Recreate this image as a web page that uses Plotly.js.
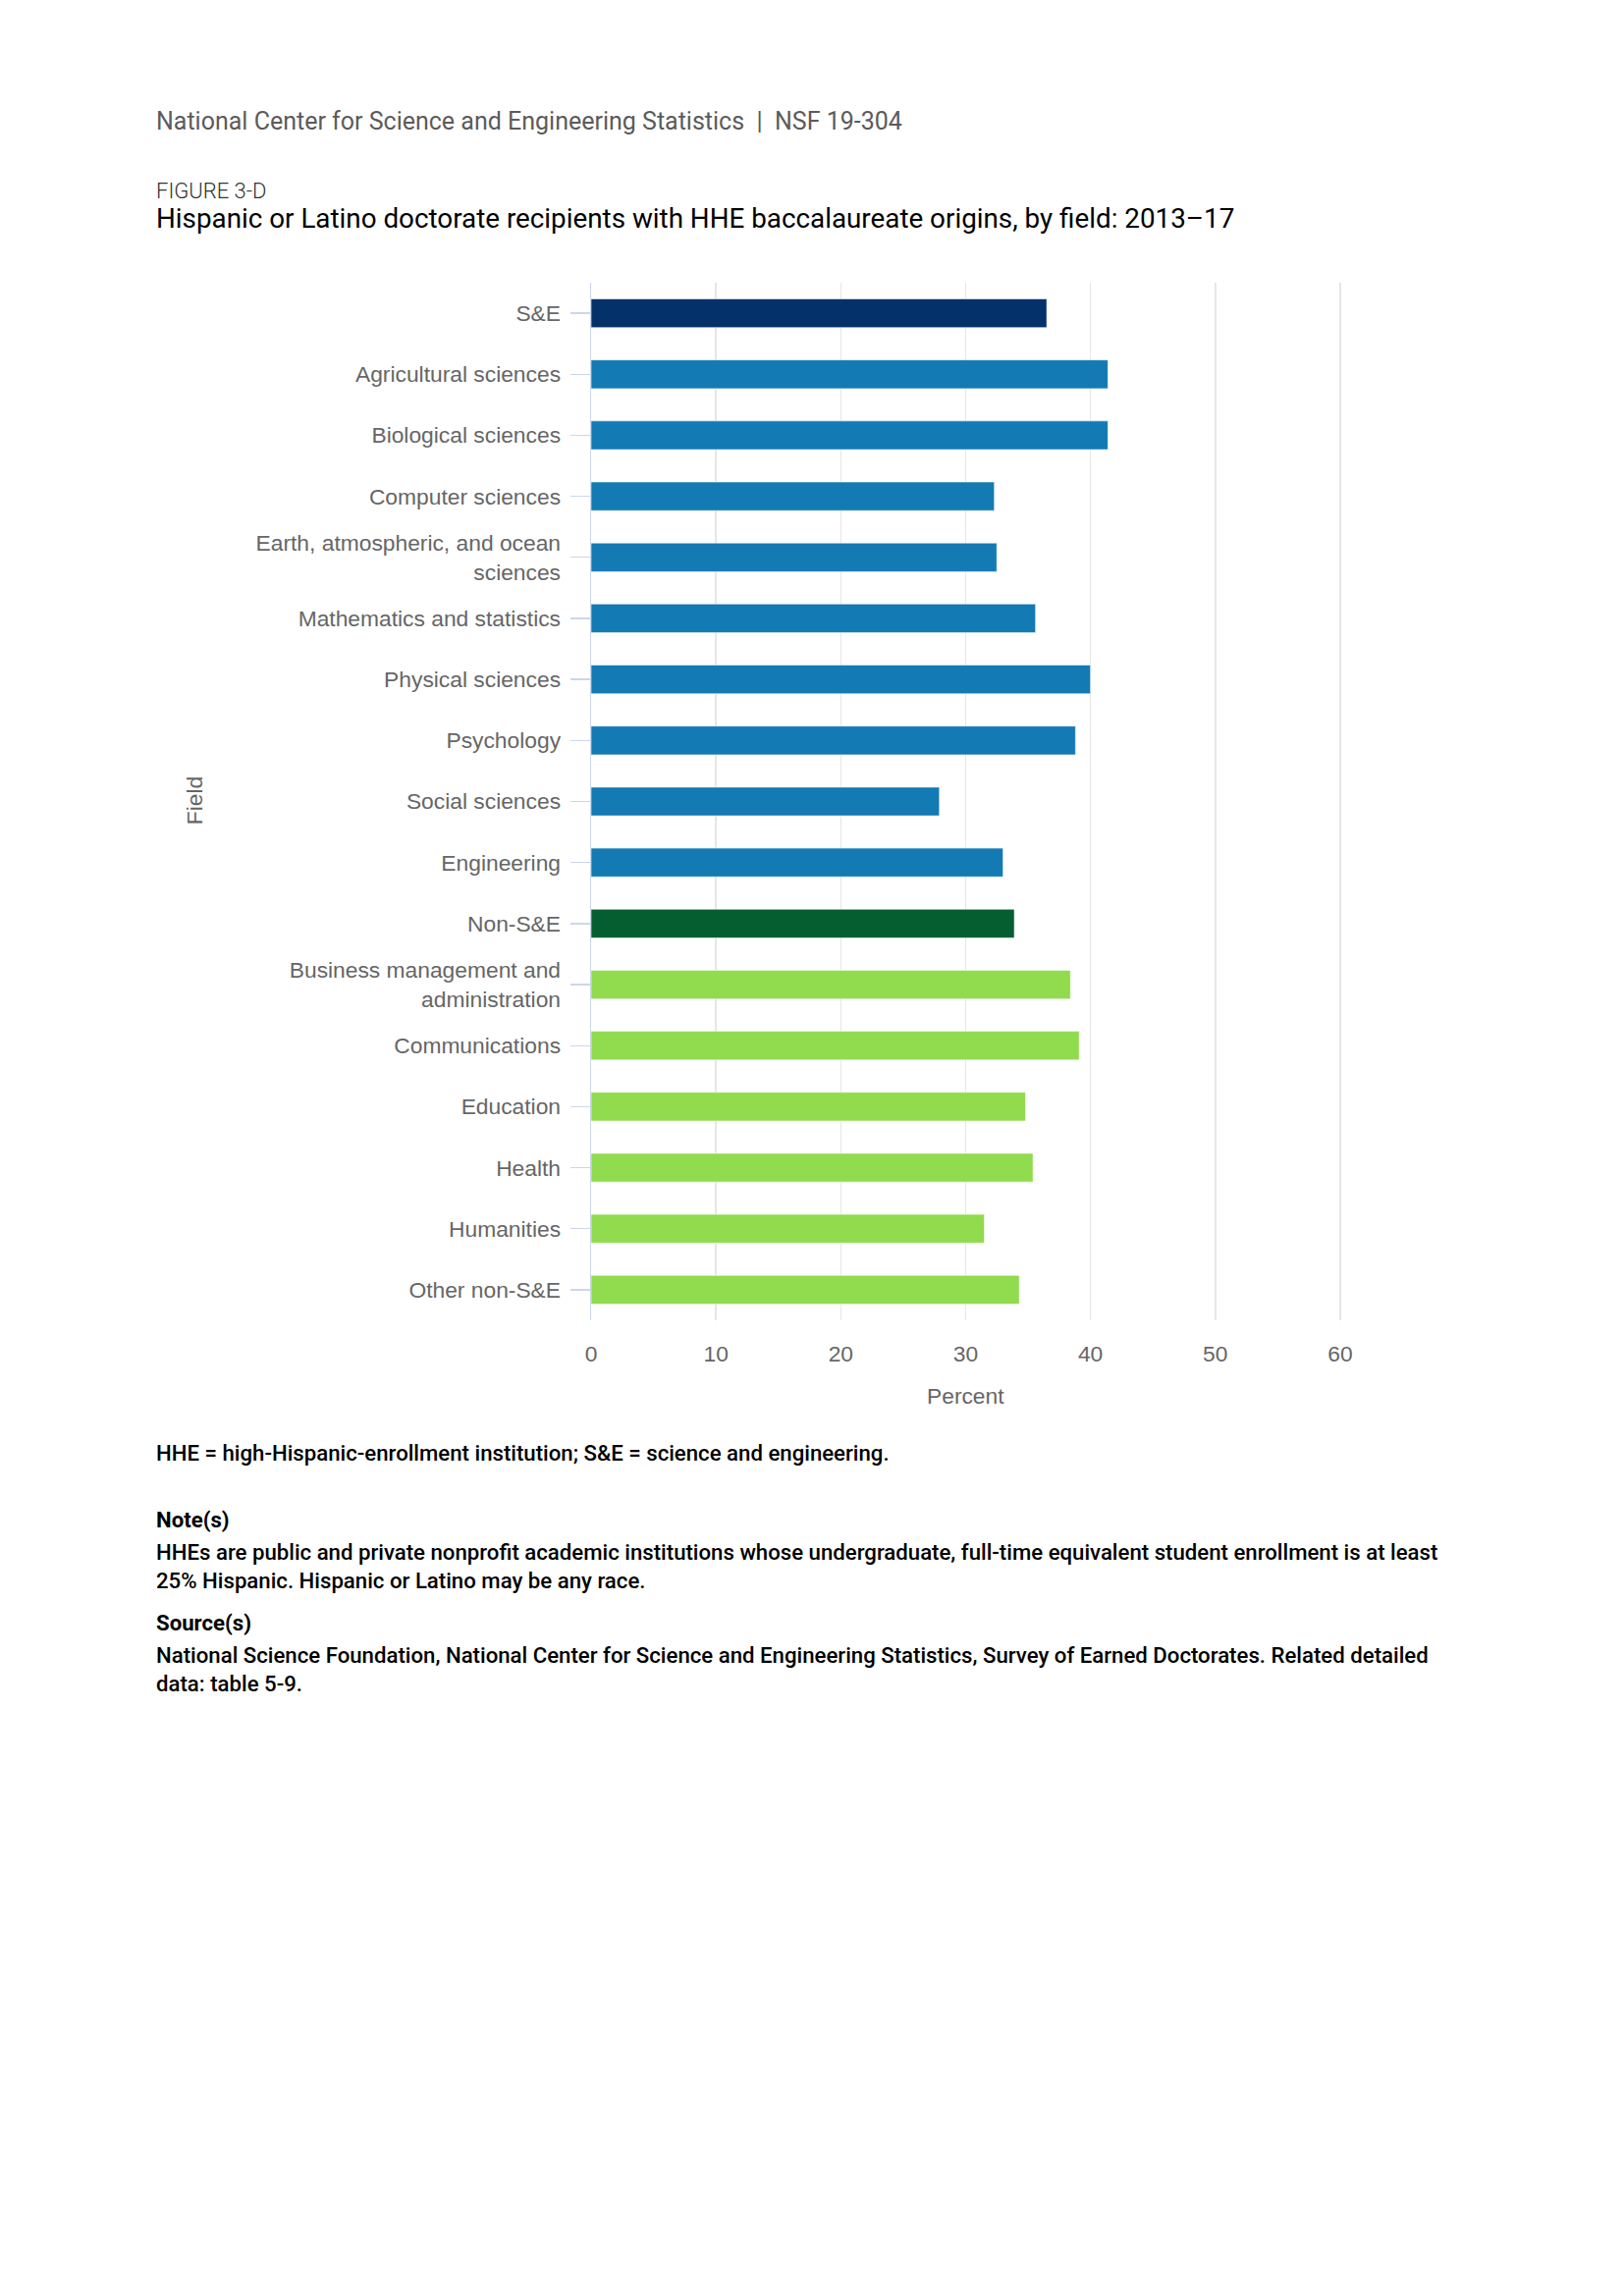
<!DOCTYPE html>
<html>
<head>
<meta charset="utf-8">
<script src="https://cdn.plot.ly/plotly-3.0.1.min.js"></script>
<style>
  html, body { margin: 0; padding: 0; background: #ffffff; }
  #chart { width: 1654px; height: 2339px; }
</style>
</head>
<body>
<div id="chart"></div>
<script>
// ---- Data ----
const fields = [
  "S&E",
  "Agricultural sciences",
  "Biological sciences",
  "Computer sciences",
  "Earth, atmospheric, and ocean<br>sciences",
  "Mathematics and statistics",
  "Physical sciences",
  "Psychology",
  "Social sciences",
  "Engineering",
  "Non-S&E",
  "Business management and<br>administration",
  "Communications",
  "Education",
  "Health",
  "Humanities",
  "Other non-S&E"
];
const percentValues = [36.5, 41.4, 41.4, 32.3, 32.5, 35.6, 40.0, 38.8, 27.9, 33.0, 33.9, 38.4, 39.1, 34.8, 35.4, 31.5, 34.3];
const fieldGroups = ["total", "se", "se", "se", "se", "se", "se", "se", "se", "se", "total2", "nonse", "nonse", "nonse", "nonse", "nonse", "nonse"];
const groupColors = { total: "#05316b", se: "#137ab4", total2: "#045e30", nonse: "#90db4e" };
const xTicks = [0, 10, 20, 30, 40, 50, 60];

const headerText = "National Center for Science and Engineering Statistics  |  NSF 19-304";
const figureLabel = "FIGURE 3-D";
const titleText = "Hispanic or Latino doctorate recipients with HHE baccalaureate origins, by field: 2013\u201317";
const abbrevText = "HHE = high-Hispanic-enrollment institution; S&E = science and engineering.";
const noteHead = "Note(s)";
const noteText = "HHEs are public and private nonprofit academic institutions whose undergraduate, full-time equivalent student enrollment is at least<br>25% Hispanic. Hispanic or Latino may be any race.";
const sourceHead = "Source(s)";
const sourceText = "National Science Foundation, National Center for Science and Engineering Statistics, Survey of Earned Doctorates. Related detailed<br>data: table 5-9.";

// ---- Layout geometry ----
const W = 1654, H = 2339;
const xMax = 60.4;
const plotL = 602, plotR = 602 + xMax * 12.72, plotT = 288, plotB = 1345;
const px = x => (x - plotL) / (plotR - plotL);
const py = y => (plotB - y) / (plotB - plotT);

const roboto = "Roboto, 'Noto Sans', sans-serif";
const arial = "'Liberation Sans', Arial, sans-serif";

const trace = {
  type: "bar",
  orientation: "h",
  y: fields,
  x: percentValues,
  marker: {
    color: fieldGroups.map(g => groupColors[g]),
    line: { color: "rgba(255,255,255,0.55)", width: 1 }
  },
  hoverinfo: "x+y"
};

function ann(text, x, y, size, color, weight, extra) {
  return Object.assign({
    text: text, xref: "paper", yref: "paper", x: px(x), y: py(y),
    xanchor: "left", yanchor: "middle", showarrow: false, align: "left",
    font: { family: roboto, size: size, color: color, weight: weight || 400 }
  }, extra || {});
}

const layout = {
  width: W, height: H,
  paper_bgcolor: "#ffffff", plot_bgcolor: "#ffffff",
  margin: { l: plotL, r: W - plotR, t: plotT, b: H - plotB, pad: 0 },
  showlegend: false,
  bargap: 0.53,
  xaxis: {
    range: [0, xMax],
    tickvals: xTicks,
    ticktext: xTicks.map(String),
    showgrid: true, gridcolor: "#e6e6e6", gridwidth: 1.5,
    zeroline: false, showline: false, ticks: "",
    tickfont: { family: arial, size: 22.8, color: "#666666" },
    ticklabelstandoff: 18,
    fixedrange: true
  },
  yaxis: {
    autorange: "reversed",
    type: "category",
    showgrid: false, zeroline: false,
    showline: true, linecolor: "#ccd6eb", linewidth: 1.4,
    ticks: "outside", ticklen: 20, tickwidth: 1.4, tickcolor: "#ccd6eb",
    tickfont: { family: arial, size: 22.8, color: "#666666" },
    ticklabelstandoff: 5,
    fixedrange: true
  },
  annotations: [
    ann(headerText, 157, 124, 25, "#5b5b5b", 400),
    ann(figureLabel, 157, 194, 22, "#333333", 300),
    ann(titleText, 157, 222, 27.8, "#000000", 400),
    ann(abbrevText, 157, 1480, 22.2, "#000000", 500),
    ann(noteHead, 157, 1548, 22.2, "#000000", 700),
    ann(noteText, 157, 1595, 22.2, "#000000", 500),
    ann(sourceHead, 157, 1653, 22.2, "#000000", 700),
    ann(sourceText, 157, 1700, 22.2, "#000000", 500),
    ann("Field", 198, 816, 22.8, "#666666", 400, { xanchor: "center", textangle: -90, font: { family: arial, size: 22.8, color: "#666666" } }),
    ann("Percent", 983.5, 1422, 22.8, "#666666", 400, { xanchor: "center", font: { family: arial, size: 22.8, color: "#666666" } })
  ]
};

Plotly.newPlot("chart", [trace], layout, { displayModeBar: false, staticPlot: true });
</script>
</body>
</html>
